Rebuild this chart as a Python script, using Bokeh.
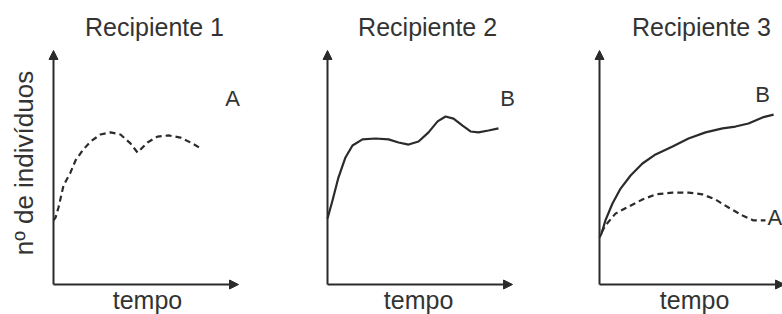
import math
from bokeh.plotting import figure
from bokeh.layouts import row
from bokeh.models import Range1d, Label, Arrow, NormalHead
from bokeh.embed import file_html
from bokeh.resources import INLINE

# ---- data (arbitrary units: tempo 0..10, individuals 0..10) ----
titles = ["Recipiente 1", "Recipiente 2", "Recipiente 3"]
x_label = "tempo"
y_label = "nº de indivíduos"

# Recipiente 1: species A alone (dashed)
r1_a_t = [0.0, 0.11, 0.27, 0.54, 0.92, 1.19, 1.57, 2.00, 2.54, 3.08, 3.62, 4.16,
          4.54, 5.08, 5.62, 6.22, 6.86, 7.51, 8.05]
r1_a_n = [2.74, 2.86, 3.29, 4.23, 4.79, 5.30, 5.73, 6.11, 6.41, 6.50, 6.41, 6.03,
          5.64, 6.07, 6.32, 6.37, 6.28, 6.03, 5.77]

# Recipiente 2: species B alone (solid)
r2_b_t = [0.0, 0.27, 0.59, 0.97, 1.35, 1.89, 2.59, 3.30, 3.84, 4.38, 4.92, 5.46,
          5.95, 6.38, 6.81, 7.30, 7.73, 8.16, 8.70, 9.24]
r2_b_n = [2.82, 3.59, 4.57, 5.43, 5.94, 6.20, 6.24, 6.20, 6.07, 5.98, 6.11, 6.50,
          6.97, 7.18, 7.09, 6.79, 6.54, 6.50, 6.58, 6.67]

# Recipiente 3: A and B together
r3_b_t = [0.0, 0.11, 0.32, 0.70, 1.14, 1.68, 2.32, 3.03, 3.95, 4.81, 5.73, 6.65,
          7.35, 8.05, 8.81, 9.41]
r3_b_n = [2.01, 2.18, 2.74, 3.46, 4.10, 4.66, 5.17, 5.56, 5.90, 6.24, 6.50, 6.67,
          6.75, 6.88, 7.14, 7.26]
r3_a_t = [0.11, 0.32, 0.86, 1.57, 2.32, 3.03, 3.95, 4.81, 5.57, 6.27, 6.97, 7.73,
          8.32, 8.97]
r3_a_n = [2.22, 2.52, 3.03, 3.33, 3.63, 3.85, 3.93, 3.93, 3.85, 3.63, 3.29, 2.95,
          2.74, 2.74]

axis_max_t = 10.0
axis_max_n = 10.0

# ---- styling / layout ----
FONT = "Liberation Sans"
INK = "#2b2b2b"
TXT = "#333333"
HEIGHT = 314
Y_RANGE = (-1.282, 12.137)

panels = [
    dict(width=290, xr=(-2.865, 12.81), title_x=5.46, tempo_x=5.08),
    dict(width=272, xr=(-2.0, 12.70), title_x=5.41, tempo_x=4.92),
    dict(width=220, xr=(-2.0, 9.89), title_x=5.51, tempo_x=5.14),
]

figs = []
for i, cfg in enumerate(panels):
    p = figure(width=cfg["width"], height=HEIGHT, output_backend="svg",
               toolbar_location=None, x_axis_location=None, y_axis_location=None,
               x_range=Range1d(*cfg["xr"]), y_range=Range1d(*Y_RANGE),
               min_border=0, outline_line_color=None, tools="")
    p.min_border_left = p.min_border_right = p.min_border_top = p.min_border_bottom = 0
    p.xgrid.visible = False
    p.ygrid.visible = False
    p.background_fill_color = "white"
    p.border_fill_color = "white"

    # axes as arrows
    p.add_layout(Arrow(x_start=0, y_start=0, x_end=axis_max_t, y_end=0,
                       line_color=INK, line_width=2,
                       end=NormalHead(size=9, fill_color=INK, line_color=INK)))
    p.add_layout(Arrow(x_start=0, y_start=0, x_end=0, y_end=axis_max_n,
                       line_color=INK, line_width=2,
                       end=NormalHead(size=9, fill_color=INK, line_color=INK)))

    # title and x label
    p.add_layout(Label(x=cfg["title_x"], y=10.41, text=titles[i], text_align="center",
                       text_baseline="bottom", text_font=FONT,
                       text_font_size="25px", text_color=TXT))
    p.add_layout(Label(x=cfg["tempo_x"], y=-1.24, text=x_label, text_align="center",
                       text_baseline="bottom", text_font=FONT,
                       text_font_size="25px", text_color=TXT))
    figs.append(p)

p1, p2, p3 = figs

# y label on first panel
p1.add_layout(Label(x=-0.78, y=5.19, text=y_label, angle=math.pi / 2,
                    text_align="center", text_baseline="bottom",
                    text_font=FONT, text_font_size="26px", text_color=TXT))

# curves
p1.line(r1_a_t, r1_a_n, line_color=INK, line_width=2.2, line_dash="6 4")
p2.line(r2_b_t, r2_b_n, line_color=INK, line_width=2.2, line_join="round")
p3.line(r3_b_t, r3_b_n, line_color=INK, line_width=2.2, line_join="round")
p3.line(r3_a_t, r3_a_n, line_color=INK, line_width=2.2, line_dash="6 4")

# curve letters
p1.add_layout(Label(x=9.68, y=7.41, text="A", text_align="center", text_baseline="bottom",
                    text_font=FONT, text_font_size="22px", text_color=TXT))
p2.add_layout(Label(x=9.73, y=7.41, text="B", text_align="center", text_baseline="bottom",
                    text_font=FONT, text_font_size="22px", text_color=TXT))
p3.add_layout(Label(x=8.81, y=7.58, text="B", text_align="center", text_baseline="bottom",
                    text_font=FONT, text_font_size="22px", text_color=TXT))
p3.add_layout(Label(x=9.08, y=2.32, text="A", text_align="left", text_baseline="bottom",
                    text_font=FONT, text_font_size="22px", text_color=TXT))

layout = row(p1, p2, p3, spacing=0)
open("out.html", "w").write(file_html(layout, INLINE))
